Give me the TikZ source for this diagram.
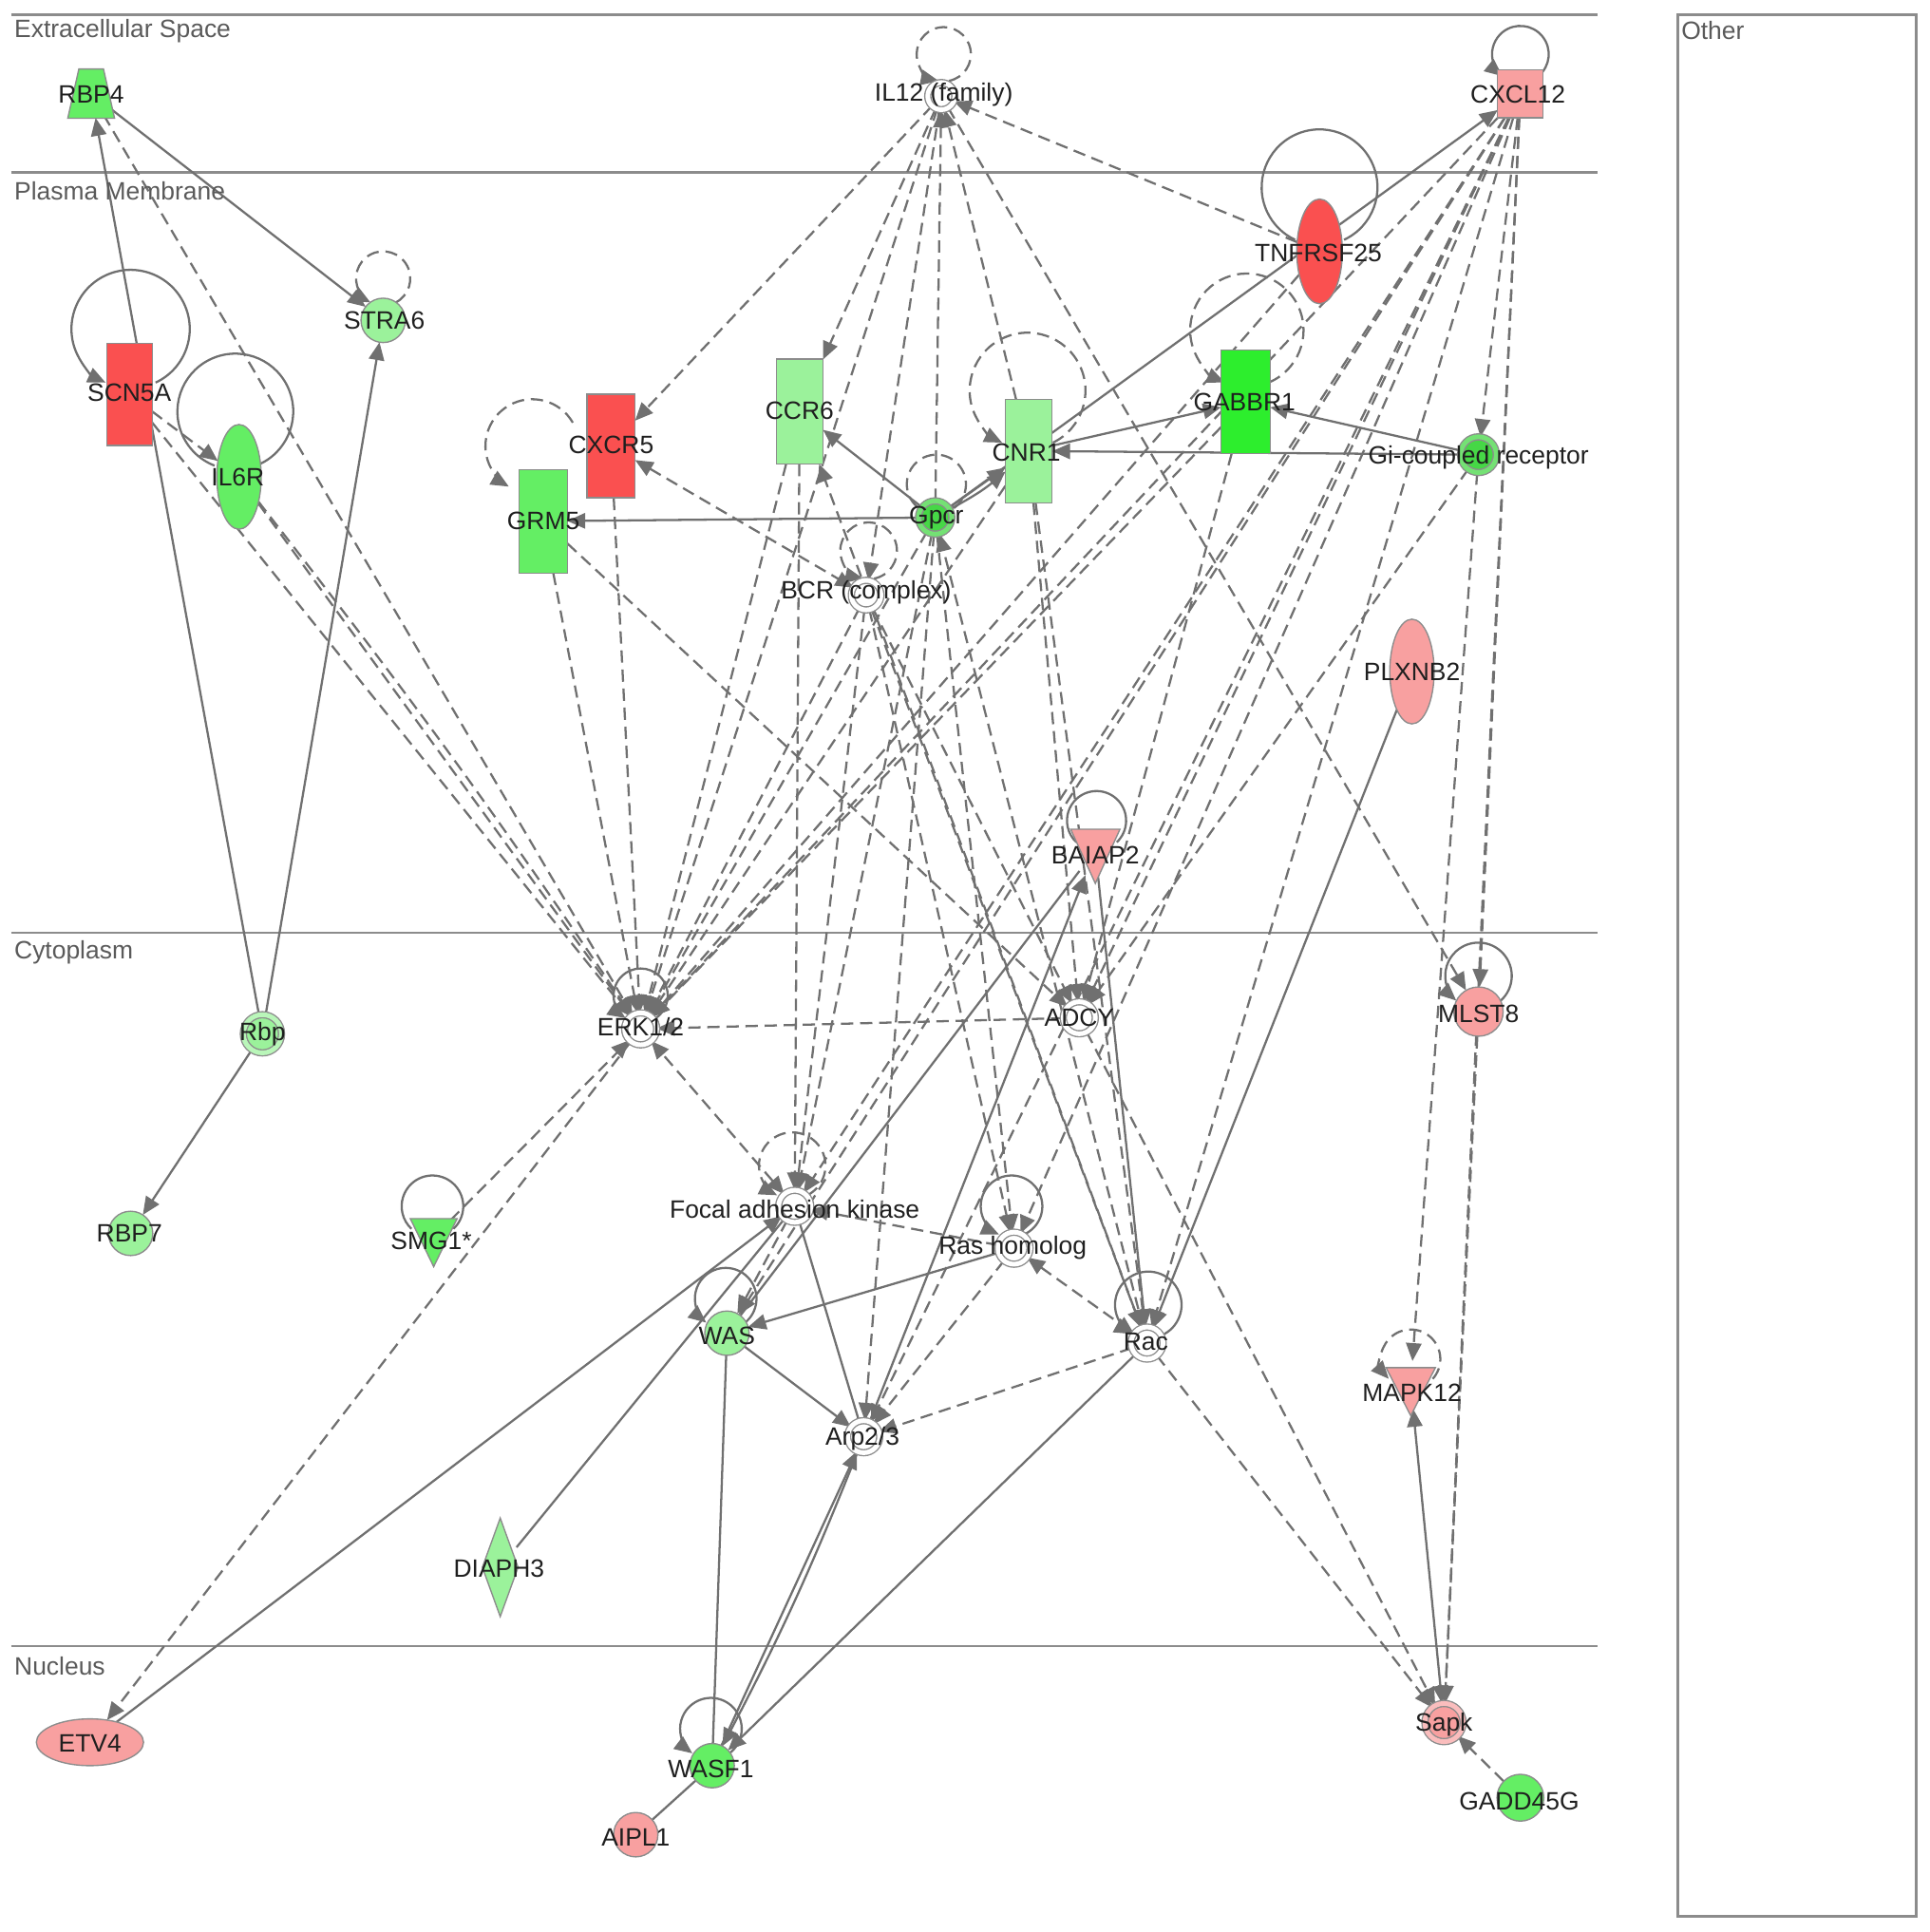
\documentclass[tikz,border=0pt]{standalone}
\usepackage{fontspec}
\setmainfont{Liberation Sans}
\usetikzlibrary{arrows.meta,shapes.geometric,backgrounds}
\pgfdeclarelayer{bg}
\pgfsetlayers{bg,main}
\definecolor{edgec}{RGB}{112,112,112}
\definecolor{bordc}{RGB}{140,140,140}
\definecolor{laneC}{RGB}{140,140,140}
\definecolor{regC}{RGB}{90,90,90}
\definecolor{gA}{RGB}{45,238,45}
\definecolor{gB}{RGB}{100,238,100}
\definecolor{gC}{RGB}{155,242,155}
\definecolor{gD}{RGB}{70,215,70}
\definecolor{rA}{RGB}{250,80,80}
\definecolor{pA}{RGB}{248,160,160}
\newcommand\lblfont{\fontsize{5.8pt}{7pt}\selectfont}
\newcommand\sloop[7]{\draw[#1] (#2.center) ++(#3,-#4) ++(#6:#5) arc[start angle=#6, delta angle=#7, radius=#5];}
\tikzset{
 ed/.style={draw=edgec, line width=0.5pt},
 sol/.style={ed},
 das/.style={ed, dash pattern=on 1.0mm off 0.55mm},
 ar/.style={-{Triangle[length=1.45mm,width=1.25mm]}},
 ra/.style={{Triangle[length=1.45mm,width=1.25mm]}-{Triangle[length=1.45mm,width=1.25mm]}},
 shp/.style={draw=bordc, line width=0.3pt, inner sep=0pt, outer sep=0pt},
 circ/.style={shp, circle, minimum size=#1},
 cpx/.style={shp, circle, minimum size=#1, double=white, double distance=0.38mm, fill=white},
 box/.style n args={2}{shp, rectangle, minimum width=#1, minimum height=#2},
 ell/.style n args={2}{shp, ellipse, minimum width=#1, minimum height=#2},
 anc/.style n args={2}{ellipse, minimum width=#1, minimum height=#2, inner sep=0pt, outer sep=0pt},
 lbl/.style={font=\lblfont, text=black!88, inner sep=0pt},
 reg/.style={font=\lblfont, text=regC, inner sep=0pt, anchor=west},
 fshape/.style={draw=bordc, line width=0.3pt},
}
\begin{document}
\begin{tikzpicture}[x=0.1mm,y=-0.1mm]
\useasboundingbox (0,0) rectangle (1566,1568);
% ---------- nodes ----------
\node[anc={3.9mm}{4mm}] (rbp4) at (74,76) {};
\node[cpx=2.2mm] (il12) at (764,78) {};
\node[box={3.7mm}{3.9mm}, fill=pA] (cxcl12) at (1234,76) {};
\node[ell={3.7mm}{8.5mm}, fill=rA] (tnf) at (1071,204) {};
\node[circ=3.6mm, fill=gC] (stra6) at (311,260) {};
\node[box={3.7mm}{8.3mm}, fill=rA] (scn5a) at (105,320) {};
\node[ell={3.6mm}{8.5mm}, fill=gB] (il6r) at (194,387) {};
\node[box={3.9mm}{8.4mm}, fill=rA] (cxcr5) at (496,362) {};
\node[box={3.8mm}{8.5mm}, fill=gC] (ccr6) at (649,334) {};
\node[box={3.8mm}{8.4mm}, fill=gC] (cnr1) at (835,366) {};
\node[box={4.0mm}{8.4mm}, fill=gA] (gabbr1) at (1011,326) {};
\node[cpx=2.9mm, fill=gD, double=gD!75!white] (gi) at (1200,369) {};
\node[box={3.9mm}{8.4mm}, fill=gB] (grm5) at (441,423) {};
\node[cpx=2.7mm, fill=gD, double=gD!75!white] (gpcr) at (759,420) {};
\node[cpx=2.4mm] (bcr) at (703,483) {};
\node[ell={3.6mm}{8.5mm}, fill=pA] (plxnb2) at (1146,545) {};
\node[anc={4mm}{4.4mm}] (baiap2) at (889,690) {};
\node[cpx=3.1mm, fill=gC, double=gC!70!white] (rbp) at (213,839) {};
\node[cpx=2.6mm] (erk) at (520,835) {};
\node[cpx=2.6mm] (adcy) at (876,826) {};
\node[circ=4mm, fill=pA] (mlst8) at (1200,821) {};
\node[circ=3.6mm, fill=gC] (rbp7) at (106,1001) {};
\node[anc={3.8mm}{3.9mm}] (smg1) at (352,1004) {};
\node[cpx=2.6mm] (fak) at (645,979) {};
\node[cpx=2.6mm] (ras) at (823,1013) {};
\node[circ=3.6mm, fill=gC] (was) at (590,1082) {};
\node[cpx=2.6mm] (rac) at (931,1090) {};
\node[anc={4mm}{3.9mm}] (mapk12) at (1145,1124) {};
\node[cpx=2.6mm] (arp) at (701,1166) {};
\node[anc={2.9mm}{8mm}] (diaph3) at (406,1272) {};
\node[ell={8.7mm}{3.8mm}, fill=pA] (etv4) at (73,1414) {};
\node[cpx=3.1mm, fill=pA, double=pA!70!white] (sapk) at (1172,1398) {};
\node[circ=3.6mm, fill=gB] (wasf1) at (578,1433) {};
\node[circ=3.8mm, fill=gB] (gadd) at (1234,1459) {};
\node[circ=3.6mm, fill=pA] (aipl1) at (516,1489) {};
% custom outlines
\filldraw[fshape, fill=gB] (64,56) -- (84,56) -- (93,96) -- (55,96) -- cycle;
\filldraw[fshape, fill=pA] (869,673) -- (909,673) -- (889,717) -- cycle;
\filldraw[fshape, fill=gB] (333,989) -- (371,989) -- (352,1028) -- cycle;
\filldraw[fshape, fill=pA] (1125,1110) -- (1165,1110) -- (1145,1149) -- cycle;
\filldraw[fshape, fill=gC] (406,1232) -- (420.5,1272) -- (406,1312) -- (391.5,1272) -- cycle;
% ---------- labels ----------
\node[lbl] (l-rbp4) at (74,77) {RBP4};
\node[lbl] (l-il12) at (766,77) {IL12 (family)};
\node[lbl] (l-cxcl12) at (1232,77) {CXCL12};
\node[lbl] (l-tnf) at (1070,205) {TNFRSF25};
\node[lbl] (l-stra6) at (312,260) {STRA6};
\node[lbl] (l-scn5a) at (105,319) {SCN5A};
\node[lbl] (l-il6r) at (193,387) {IL6R};
\node[lbl] (l-cxcr5) at (496,361) {CXCR5};
\node[lbl] (l-ccr6) at (649,333) {CCR6};
\node[lbl] (l-cnr1) at (833,367) {CNR1};
\node[lbl] (l-gabbr1) at (1010,326) {GABBR1};
\node[lbl] (l-gi) at (1200,371) {Gi-coupled receptor};
\node[lbl] (l-grm5) at (441,423) {GRM5};
\node[lbl] (l-gpcr) at (760,420) {Gpcr};
\node[lbl] (l-bcr) at (703,481) {BCR (complex)};
\node[lbl] (l-plxnb2) at (1146,545) {PLXNB2};
\node[lbl] (l-baiap2) at (889,694) {BAIAP2};
\node[lbl] (l-rbp) at (213,839) {Rbp};
\node[lbl] (l-erk) at (520,833) {ERK1/2};
\node[lbl] (l-adcy) at (876,826) {ADCY};
\node[lbl] (l-mlst8) at (1200,823) {MLST8};
\node[lbl] (l-rbp7) at (105,1001) {RBP7};
\node[lbl] (l-smg1) at (350,1007) {SMG1*};
\node[lbl] (l-fak) at (645,981) {Focal adhesion kinase};
\node[lbl] (l-ras) at (822,1013) {Ras homolog};
\node[lbl] (l-was) at (590,1084) {WAS};
\node[lbl] (l-rac) at (930,1089) {Rac};
\node[lbl] (l-mapk12) at (1146,1130) {MAPK12};
\node[lbl] (l-arp) at (700,1168) {Arp2/3};
\node[lbl] (l-diaph3) at (405,1273) {DIAPH3};
\node[lbl] (l-etv4) at (73,1415) {ETV4};
\node[lbl] (l-sapk) at (1172,1400) {Sapk};
\node[lbl] (l-wasf1) at (577,1436) {WASF1};
\node[lbl] (l-gadd) at (1233,1462) {GADD45G};
\node[lbl] (l-aipl1) at (516,1491) {AIPL1};
% regions
\node[reg] (r-ext) at (11,25) {Extracellular Space};
\node[reg] (r-pm) at (11,155) {Plasma Membrane};
\node[reg] (r-cy) at (11,773) {Cytoplasm};
\node[reg] (r-nu) at (11,1352) {Nucleus};
\node[reg] (r-ot) at (1364,25) {Other};
% ---------- edges ----------
\begin{pgfonlayer}{bg}
\draw[laneC, line width=0.8pt] (9,12) -- (1297,12);
\draw[laneC, line width=0.6pt] (9,140) -- (1297,140);
\draw[laneC, line width=0.6pt] (9,757) -- (1297,757);
\draw[laneC, line width=0.6pt] (9,1336) -- (1297,1336);
\draw[laneC, line width=0.6pt] (1362,12) rectangle (1555,1555);
% solid
\draw[sol,ar] (rbp) -- (rbp4);
\draw[sol,ar] (rbp4) -- (stra6);
\draw[sol,ar] (rbp) -- (stra6);
\draw[sol,ar] (rbp) -- (rbp7);
\draw[sol,ar] (gpcr) -- (grm5);
\draw[sol,ar] (gpcr) -- (ccr6);
\draw[sol,ar] (gpcr) -- (cnr1);
\draw[sol,ar] (gpcr) to[bend right=6] (cnr1);
\draw[sol,ar] (gpcr) -- (cxcl12);
\draw[sol,ar] (gi) -- (cnr1);
\draw[sol,ar] (gi) -- (gabbr1);
\draw[sol,ar] (cnr1) -- (gabbr1);
\draw[sol,ar] (etv4) -- (fak);
\draw[sol] (diaph3) -- (fak);
\draw[sol] (fak) -- (arp);
\draw[sol,ar] (ras) -- (was);
\draw[sol,ar] (was) -- (arp);
\draw[sol] (was) -- (wasf1);
\draw[sol,ar] (wasf1) -- (arp);
\draw[sol,ar] (arp) to[bend left=3] (wasf1);
\draw[sol,ar] (rac) -- (wasf1);
\draw[sol] (aipl1) -- (wasf1);
\draw[sol,ra] (mapk12) -- (sapk);
\draw[sol,ar] (plxnb2) -- (rac);
\draw[sol,ar] (arp) -- (baiap2);
\draw[sol] (was) -- (baiap2);
\draw[sol,ar] (baiap2) -- (rac);
% dashed
\draw[das,ar] (rbp4) -- (erk);
\draw[das,ar] (scn5a) -- (il6r);
\draw[das,ar] (scn5a) -- (erk);
\draw[das,ar] (il6r) -- (erk);
\draw[das,ar] (il6r) to[bend left=2] (erk);
\draw[das,ar] (grm5) -- (erk);
\draw[das,ar] (grm5) -- (adcy);
\draw[das,ar] (cxcr5) -- (erk);
\draw[das,ra] (cxcr5) -- (bcr);
\draw[das,ar] (il12) -- (cxcr5);
\draw[das,ar] (il12) -- (ccr6);
\draw[das,ar] (il12) -- (erk);
\draw[das,ar] (gpcr) -- (il12);
\draw[das,ar] (cnr1) -- (il12);
\draw[das,ar] (il12) -- (mlst8);
\draw[das,ar] (tnf) -- (il12);
\draw[das,ar] (tnf) -- (erk);
\draw[das,ar] (il12) -- (bcr);
\draw[das,ar] (ccr6) -- (erk);
\draw[das,ar] (ccr6) -- (fak);
\draw[das,ar] (bcr) -- (erk);
\draw[das,ar] (bcr) -- (fak);
\draw[das,ar] (bcr) -- (ras);
\draw[das,ar] (bcr) -- (adcy);
\draw[das,ar] (bcr) -- (rac);
\draw[das,ar] (gpcr) -- (erk);
\draw[das,ar] (gpcr) -- (fak);
\draw[das,ar] (gpcr) -- (ras);
\draw[das,ar] (gpcr) -- (arp);
\draw[das,ar] (rac) -- (gpcr);
\draw[das,ar] (rac) -- (ccr6);
\draw[das,ar] (cnr1) -- (erk);
\draw[das,ar] (cnr1) -- (adcy);
\draw[das,ar] (cnr1) -- (rac);
\draw[das,ar] (gabbr1) -- (erk);
\draw[das,ar] (gabbr1) -- (adcy);
\draw[das,ar] (cxcl12) -- (gi);
\draw[das,ar] (cxcl12) -- (erk);
\draw[das,ar] (cxcl12) -- (fak);
\draw[das,ar] (cxcl12) -- (was);
\draw[das,ar] (cxcl12) -- (adcy);
\draw[das,ar] (cxcl12) -- (ras);
\draw[das,ar] (cxcl12) -- (rac);
\draw[das,ar] (cxcl12) -- (arp);
\draw[das,ar] (cxcl12) -- (mlst8);
\draw[das,ar] (cxcl12) -- (sapk);
\draw[das,ar] (gi) -- (mapk12);
\draw[das,ar] (gi) -- (adcy);
\draw[das,ar] (mlst8) -- (sapk);
\draw[das,ar] (rac) -- (sapk);
\draw[das,ar] (adcy) -- (sapk);
\draw[das,ar] (adcy) -- (erk);
\draw[das,ar] (erk) -- (etv4);
\draw[das,ar] (smg1) -- (erk);
\draw[das,ra] (fak) -- (erk);
\draw[das,ar] (ras) -- (fak);
\draw[das,ra] (ras) -- (rac);
\draw[das,ar] (ras) -- (arp);
\draw[das,ar] (rac) -- (arp);
\draw[das,ar] (fak) -- (was);
\draw[das,ar] (gadd) -- (sapk);
% self loops
\sloop{sol,ar}{scn5a}{1}{53}{48}{65}{-310}
\sloop{sol}{il6r}{-3}{53}{47}{69}{-318}
\sloop{das,ar}{stra6}{0}{34}{22}{62}{-304}
\sloop{das,ar}{il12}{2}{34}{22}{79}{-338}
\sloop{sol,ar}{cxcl12}{0}{32}{23}{51}{-282}
\sloop{sol}{tnf}{0}{52}{47}{65}{-310}
\sloop{das,ar}{gabbr1}{1}{58}{46}{67}{-314}
\sloop{das,ar}{cnr1}{-1}{49}{47}{64}{-308}
\sloop{das}{gpcr}{1}{27}{24}{54}{-288}
\sloop{das,ar}{bcr}{2}{36}{23}{79}{-338}
\sloop{sol,ar}{erk}{0}{27}{22}{56}{-292}
\sloop{das,ar}{fak}{-2}{33}{27}{63}{-306}
\sloop{sol,ar}{ras}{-2}{34}{25}{66}{-312}
\sloop{sol,ar}{was}{-1}{28}{25}{51}{-282}
\sloop{sol,ar}{rac}{1}{31}{27}{61}{-302}
\sloop{sol,ar}{mlst8}{0}{29}{27}{48}{-276}
\sloop{das,ar}{mapk12}{0}{21}{24}{42}{-264}
\sloop{sol}{baiap2}{1}{24}{24}{47}{-274}
\sloop{sol}{smg1}{-1}{25}{25}{47}{-274}
\sloop{sol,ar}{wasf1}{-1}{30}{25}{53}{-286}
\draw[das,ar] (grm5.center) ++(-9,-61) ++(-30:38) arc[start angle=-30, delta angle=-210, radius=38];
\end{pgfonlayer}
\end{tikzpicture}
\end{document}
